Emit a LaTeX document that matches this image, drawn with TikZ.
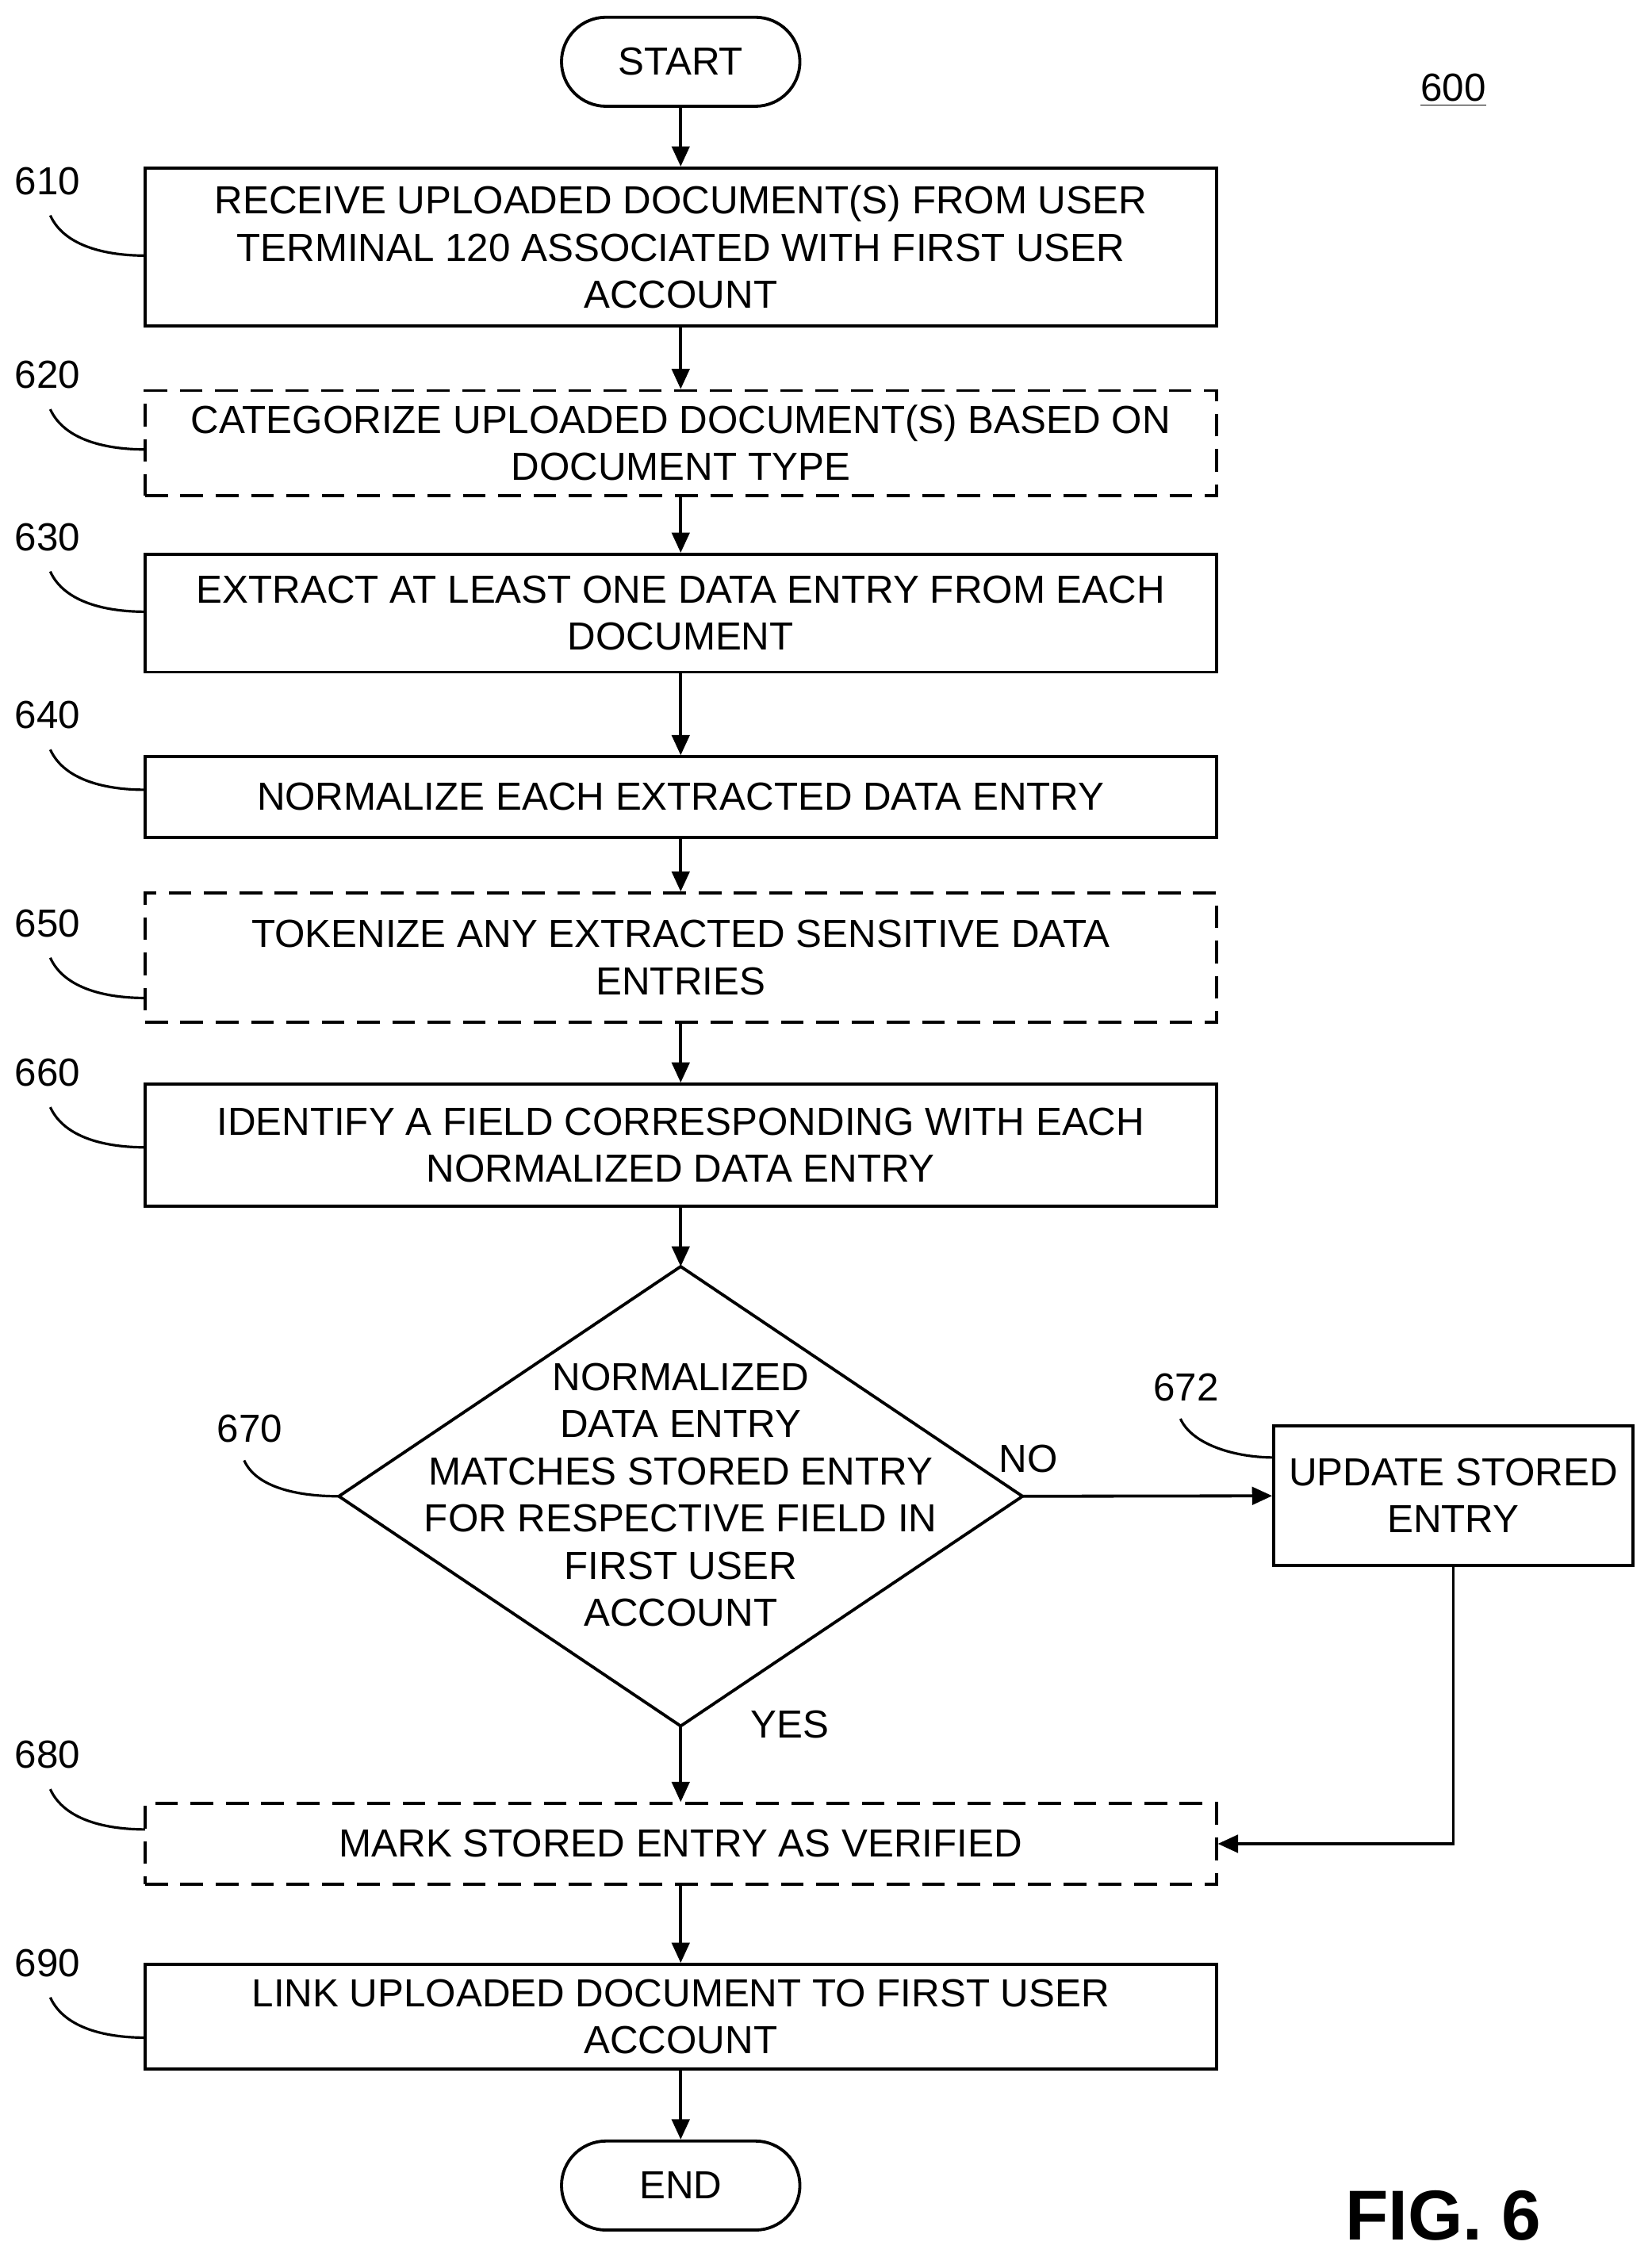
\documentclass[tikz,border=0pt]{standalone}
\usepackage{fontspec}
\setmainfont{Liberation Sans}
\usetikzlibrary{arrows.meta}
\begin{document}
\begin{tikzpicture}[x=0.02cm,y=-0.02cm,
  font=\fontsize{15.5}{18.7}\selectfont,
  box/.style={draw,line width=1.2pt,align=center,inner sep=0pt},
  dbox/.style={box,dash pattern=on 9pt off 5pt},
  term/.style={draw,line width=1.2pt,rounded corners=31*0.02cm,minimum width=166*0.02cm,minimum height=62*0.02cm,inner sep=0pt},
  arr/.style={line width=1.2pt,-{Triangle[length=8pt,width=7pt]}},
  lead/.style={line width=1pt},
  lab/.style={inner sep=0pt}]
\useasboundingbox (0,0) rectangle (1150,1569);
\newcommand{\bx}[5]{\node[#1,minimum width=746*0.02cm,minimum height=#4*0.02cm] (#2) at (474,#3) {#5};}
\node[term] (start) at (474,43) {START};
\bx{box}{b610}{172}{110}{RECEIVE UPLOADED DOCUMENT(S) FROM USER\\TERMINAL 120 ASSOCIATED WITH FIRST USER\\ACCOUNT}
\bx{dbox}{b620}{308.5}{73}{CATEGORIZE UPLOADED DOCUMENT(S) BASED ON\\DOCUMENT TYPE}
\bx{box}{b630}{427}{82}{EXTRACT AT LEAST ONE DATA ENTRY FROM EACH\\DOCUMENT}
\bx{box}{b640}{555}{56}{NORMALIZE EACH EXTRACTED DATA ENTRY}
\bx{dbox}{b650}{667}{90}{TOKENIZE ANY EXTRACTED SENSITIVE DATA\\ENTRIES}
\bx{box}{b660}{797.5}{85}{IDENTIFY A FIELD CORRESPONDING WITH EACH\\NORMALIZED DATA ENTRY}
\coordinate (dt) at (474,882);
\coordinate (db) at (474,1202);
\coordinate (dl) at (236,1042);
\coordinate (dr) at (712,1042);
\draw[line width=1.2pt] (dt)--(dr)--(db)--(dl)--cycle;
\node[align=center,inner sep=0pt] (d670) at (474,1041) {NORMALIZED\\DATA ENTRY\\MATCHES STORED ENTRY\\FOR RESPECTIVE FIELD IN\\FIRST USER\\ACCOUNT};
\node[box,minimum width=250*0.02cm,minimum height=97*0.02cm] (b672) at (1012,1041.5) {UPDATE STORED\\ENTRY};
\bx{dbox}{b680}{1284}{56}{MARK STORED ENTRY AS VERIFIED}
\bx{box}{b690}{1404.5}{73}{LINK UPLOADED DOCUMENT TO FIRST USER\\ACCOUNT}
\node[term] (end) at (474,1522) {END};
\draw[arr] (start)--(b610);
\draw[arr] (b610)--(b620);
\draw[arr] (b620)--(b630);
\draw[arr] (b630)--(b640);
\draw[arr] (b640)--(b650);
\draw[arr] (b650)--(b660);
\draw[arr] (b660)--(dt);
\draw[arr] (dr)--(b672);
\draw[arr] (db)--(b680);
\draw[arr] (b672.south)|-(b680.east);
\draw[arr] (b680)--(b690);
\draw[arr] (b690)--(end);
\node[lab] (no) at (716,1016) {NO};
\node[lab] (yes) at (550,1201) {YES};
\node[lab] (l600) at (1012,63) {\underline{600}};
\node[lab,font=\fontsize{28}{32}\bfseries] (fig) at (1005,1543) {FIG. 6};
\foreach \n/\y/\t in {610/126/b610,620/261/b620,630/374/b630,640/498/b640,650/643/b650,660/747/b660,680/1222/b680,690/1367/b690}{
  \node[lab] (l\n) at (33,\y) {\n};
  \draw[lead] (35,\y+24) .. controls (45,\y+46) and (75,\y+52) .. (101,\y+52);
}
\node[lab] (l670) at (174,995) {670};
\draw[lead] (170,1017) .. controls (178,1035) and (205,1042) .. (dl);
\node[lab] (l672) at (826,966) {672};
\draw[lead] (822,988) .. controls (830,1006) and (860,1015) .. (887,1015);
\end{tikzpicture}
\end{document}
